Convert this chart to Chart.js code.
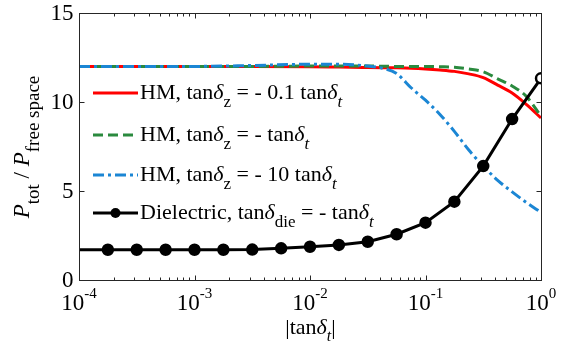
<!DOCTYPE html>
<html>
<head>
<meta charset="utf-8">
<script src="https://cdn.jsdelivr.net/npm/chart.js@4.4.0/dist/chart.umd.min.js"></script>
<style>
  html, body { margin: 0; padding: 0; background: #fff; }
  #wrap { width: 566px; height: 353px; position: relative; }
</style>
</head>
<body>
<div id="wrap"><canvas id="c"></canvas></div>
<script>
// ---------- data ----------
const hmX = [1e-4, 3.162e-4, 1e-3, 3.162e-3, 1e-2, 1.778e-2, 3.162e-2, 4.217e-2, 5.623e-2, 7.499e-2,
             0.1, 0.1334, 0.1778, 0.2371, 0.3162, 0.4217, 0.5623, 0.7499, 1];
const hmTenth = [12, 12, 12, 12, 11.98, 11.96, 11.94, 11.93, 11.92, 11.9,
                 11.86, 11.8, 11.72, 11.58, 11.37, 10.95, 10.5, 9.85, 9.1];
const hmEqual = [12, 12, 12, 12, 12.02, 12.02, 12.02, 12.01, 12.0, 12.0,
                 12.0, 11.98, 11.95, 11.85, 11.7, 11.3, 10.9, 10.3, 9.2];
const hmTen   = [12, 12, 12, 12.05, 12.12, 12.12, 12.02, 11.9, 11.6, 10.8,
                 10.1, 9.3, 8.35, 7.3, 6.4, 5.6, 4.95, 4.35, 3.8];
const dielX = [1e-4, 1.778e-4, 3.162e-4, 5.623e-4, 1e-3, 1.778e-3, 3.162e-3, 5.623e-3, 1e-2,
               1.778e-2, 3.162e-2, 5.623e-2, 0.1, 0.1778, 0.3162, 0.5623, 1];
const dielY = [1.7, 1.7, 1.7, 1.7, 1.7, 1.7, 1.71, 1.78, 1.87,
               1.97, 2.15, 2.57, 3.22, 4.4, 6.4, 9.04, 11.33];
const xTicks = [1e-4, 1e-3, 1e-2, 1e-1, 1];
const xTickExp = ['-4', '-3', '-2', '-1', '0'];
const yTicks = [0, 5, 10, 15];
const yTickLabels = ['0', '5', '10', '15'];

// ---------- styling ----------
const SERIF = '"Liberation Serif", "Times New Roman", serif';
const RED = '#ff0000', GREEN = '#2a8a3e', BLUE = '#1b86d4', BLACK = '#000000';

function pts(xs, ys) { return xs.map((x, i) => ({ x: x, y: ys[i] })); }

function richWidth(ctx, segs) {
  let w = 0;
  for (const s of segs) {
    ctx.font = (s.it ? 'italic ' : '') + s.size + 'px ' + SERIF;
    w += ctx.measureText(s.t).width;
  }
  return w;
}
function drawRich(ctx, segs, x, y, align) {
  const w = richWidth(ctx, segs);
  let cx = align === 'center' ? x - w / 2 : (align === 'right' ? x - w : x);
  ctx.textBaseline = 'alphabetic';
  ctx.textAlign = 'left';
  for (const s of segs) {
    ctx.font = (s.it ? 'italic ' : '') + s.size + 'px ' + SERIF;
    ctx.fillText(s.t, cx, y + (s.dy || 0));
    cx += ctx.measureText(s.t).width;
  }
}
const M = 22, S = 17, SD = 8;
const legendTexts = [
  [{t:'HM, tan',size:M},{t:'δ',size:M,it:true},{t:'z',size:S,dy:SD},{t:' = - 0.1 tan',size:M},{t:'δ',size:M,it:true},{t:'t',size:S,dy:SD,it:true}],
  [{t:'HM, tan',size:M},{t:'δ',size:M,it:true},{t:'z',size:S,dy:SD},{t:' = - tan',size:M},{t:'δ',size:M,it:true},{t:'t',size:S,dy:SD,it:true}],
  [{t:'HM, tan',size:M},{t:'δ',size:M,it:true},{t:'z',size:S,dy:SD},{t:' = - 10 tan',size:M},{t:'δ',size:M,it:true},{t:'t',size:S,dy:SD,it:true}],
  [{t:'Dielectric, tan',size:M},{t:'δ',size:M,it:true},{t:'die',size:S,dy:SD},{t:' = - tan',size:M},{t:'δ',size:M,it:true},{t:'t',size:S,dy:SD,it:true}]
];

const framePlugin = {
  id: 'frame',
  afterDraw(chart) {
    const ctx = chart.ctx;
    const xs = chart.scales.x, ys = chart.scales.y;
    const L = Math.round(xs.getPixelForValue(1e-4)) + 0.5;
    const R = Math.round(xs.getPixelForValue(1)) + 0.5;
    const T = Math.round(ys.getPixelForValue(15)) + 0.5;
    const B = Math.round(ys.getPixelForValue(0)) + 0.5;
    ctx.save();
    ctx.strokeStyle = '#262626';
    ctx.lineWidth = 1;
    ctx.strokeRect(L, T, R - L, B - T);
    // x ticks (inside, bottom and top)
    ctx.beginPath();
    for (let d = 0; d < xTicks.length; d++) {
      const base = xTicks[d];
      const px = Math.round(xs.getPixelForValue(base)) + 0.5;
      ctx.moveTo(px, B); ctx.lineTo(px, B - 5);
      ctx.moveTo(px, T); ctx.lineTo(px, T + 5);
      if (d < xTicks.length - 1) {
        for (let k = 2; k <= 9; k++) {
          const mx = Math.round(xs.getPixelForValue(base * k)) + 0.5;
          ctx.moveTo(mx, B); ctx.lineTo(mx, B - 3);
          ctx.moveTo(mx, T); ctx.lineTo(mx, T + 3);
        }
      }
    }
    for (const v of yTicks) {
      const py = Math.round(ys.getPixelForValue(v)) + 0.5;
      ctx.moveTo(L, py); ctx.lineTo(L + 5, py);
      ctx.moveTo(R, py); ctx.lineTo(R - 5, py);
    }
    ctx.stroke();
    ctx.fillStyle = '#000';
    // y tick labels
    ctx.font = '23px ' + SERIF;
    ctx.textAlign = 'right';
    ctx.textBaseline = 'middle';
    yTicks.forEach((v, i) => {
      ctx.fillText(yTickLabels[i], L - 6, ys.getPixelForValue(v) + 1);
    });
    // x tick labels 10^e
    xTicks.forEach((v, i) => {
      const px = xs.getPixelForValue(v);
      drawRich(ctx, [{t:'10',size:23},{t:xTickExp[i],size:15,dy:-12}], px, 310, 'center');
    });
    // x title
    drawRich(ctx, [{t:'|tan',size:22},{t:'δ',size:22,it:true},{t:'t',size:16,dy:7,it:true},{t:'|',size:22}], (L + R) / 2, 334, 'center');
    // y title (rotated)
    ctx.save();
    ctx.translate(29, (T + B) / 2);
    ctx.rotate(-Math.PI / 2);
    drawRich(ctx, [{t:'P',size:23,it:true},{t:'tot',size:19,dy:10},{t:' / ',size:23},{t:'P',size:23,it:true},{t:'free space',size:19,dy:10}], 0, 0, 'center');
    ctx.restore();
    // legend
    const rowsY = [93, 135, 175, 213];
    const ds = chart.data.datasets;
    [0, 1, 2, 3].forEach((di, r) => {
      const d = ds[di];
      const y = rowsY[r];
      ctx.save();
      ctx.strokeStyle = d.borderColor;
      ctx.lineWidth = d.borderWidth;
      ctx.setLineDash(d.borderDash || []);
      ctx.beginPath();
      ctx.moveTo(93, y); ctx.lineTo(138, y);
      ctx.stroke();
      ctx.setLineDash([]);
      if (d.legendMarker) {
        ctx.fillStyle = '#000';
        ctx.beginPath();
        ctx.arc(115.5, y, 5, 0, Math.PI * 2);
        ctx.fill();
      }
      ctx.restore();
      ctx.fillStyle = '#000';
      drawRich(ctx, legendTexts[r], 140, y + 6, 'left');
    });
    ctx.restore();
  }
};

const dielRadius = dielY.map((v, i) => (i === 0 ? 0 : 5));
const dielFill = dielY.map((v, i) => (i === dielY.length - 1 ? '#ffffff' : '#000000'));

new Chart(document.getElementById('c'), {
  type: 'line',
  data: {
    datasets: [
      { label: 'HM 0.1', data: pts(hmX, hmTenth), borderColor: RED, borderWidth: 3, pointRadius: 0,
        cubicInterpolationMode: 'monotone', order: 3, fill: false },
      { label: 'HM 1', data: pts(hmX, hmEqual), borderColor: GREEN, borderWidth: 3, borderDash: [10, 5], pointRadius: 0,
        cubicInterpolationMode: 'monotone', order: 2, fill: false },
      { label: 'HM 10', data: pts(hmX, hmTen), borderColor: BLUE, borderWidth: 3, borderDash: [11, 4, 3, 4], pointRadius: 0,
        cubicInterpolationMode: 'monotone', order: 1, fill: false },
      { label: 'Dielectric', data: pts(dielX, dielY), borderColor: BLACK, borderWidth: 3, tension: 0,
        pointRadius: dielRadius, pointBackgroundColor: dielFill, pointBorderColor: '#000', pointBorderWidth: 2.5,
        legendMarker: true, order: 0, fill: false }
    ]
  },
  options: {
    responsive: true,
    maintainAspectRatio: false,
    animation: false,
    devicePixelRatio: 1,
    layout: { padding: { left: 79, right: 25, top: 13, bottom: 73 } },
    plugins: { legend: { display: false }, tooltip: { enabled: false } },
    scales: {
      x: { type: 'logarithmic', min: 1e-4, max: 1, display: false },
      y: { type: 'linear', min: 0, max: 15, display: false }
    }
  },
  plugins: [framePlugin]
});
</script>
</body>
</html>
